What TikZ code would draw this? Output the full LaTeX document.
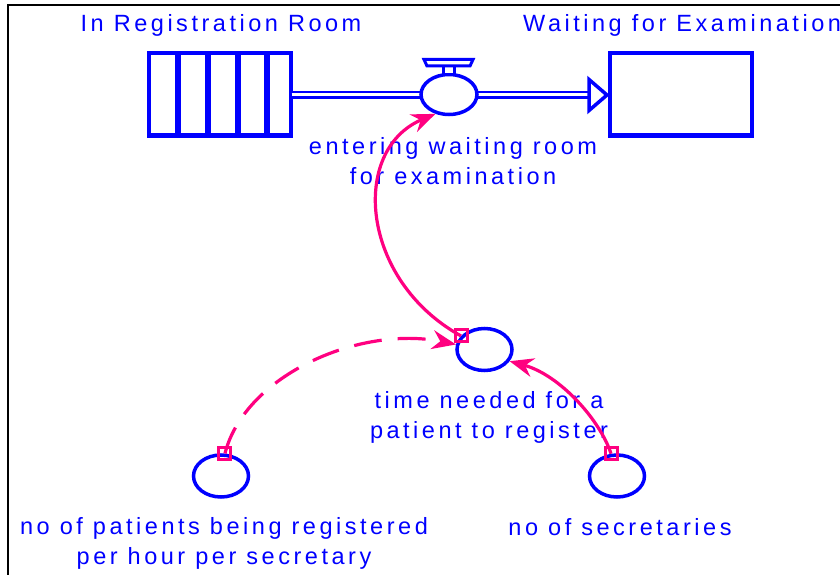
\documentclass[tikz,border=0pt]{standalone}
\usepackage{fontspec}
\setmainfont{Liberation Sans}[LetterSpace=15]
\usetikzlibrary{arrows.meta,shapes.geometric}
\definecolor{sdblue}{RGB}{0,0,255}
\definecolor{sdpink}{RGB}{255,0,128}
\begin{document}
\begin{tikzpicture}[x=1pt,y=-1pt,
  lbl/.style={text=sdblue,font=\fontsize{23.5}{29.5}\selectfont,align=center,inner sep=0pt},
  stock/.style={draw=sdblue,fill=white,line width=4pt,minimum width=142pt,minimum height=82pt,inner sep=0pt},
  aux/.style={ellipse,draw=sdblue,fill=white,line width=3.5pt,minimum width=55pt,minimum height=42pt,inner sep=0pt},
  valveshape/.style={ellipse,draw=sdblue,fill=white,line width=3.5pt,minimum width=56pt,minimum height=40pt,inner sep=0pt},
  divider/.style={draw=sdblue,line width=5.5pt},
  conn/.style={draw=sdpink,line width=3.2pt,-{Stealth[length=24pt,width=19pt,inset=8pt]}},
  srcsq/.style={draw=sdpink,line width=3pt,minimum size=12pt,inner sep=0pt},
  frameline/.style={draw=black,line width=2.5pt}
]
\useasboundingbox (0,0) rectangle (840,575);

% outer frame (left and top edges)
\draw[frameline] (8,575) -- (8,5) -- (840,5);

% stocks
\node[stock] (regroom) at (219.5,94.5) {};
\foreach \x in {178,208,238,267}
  \draw[divider] (\x,53) -- (\x,136);
\node[stock] (waitroom) at (680.5,94.5) {};

% flow pipe with hollow arrow head
\coordinate (pipeend) at (589,95);
\draw[draw=sdblue,line width=8.5pt] (regroom.east |- pipeend) -- (pipeend);
\draw[draw=white,line width=3pt] ([xshift=-1pt]regroom.east |- pipeend) -- ([xshift=2pt]pipeend);
\draw[draw=sdblue,fill=white,line width=3.5pt,line join=miter]
  (pipeend) ++(0,-15.5) -- (607,95) -- (589,110.5) -- cycle;

% valve
\node[valveshape] (valve) at (449,94.5) {};
\draw[draw=sdblue,fill=white,line width=3pt] (443.5,74.5) rectangle (454,66);
\draw[draw=sdblue,fill=white,line width=3pt] (424,59.5) -- (473,59.5) -- (470,66) -- (427,66) -- cycle;

% auxiliaries
\node[aux] (timereg) at (484.5,349.5) {};
\node[aux] (patients) at (221,476) {};
\node[aux] (secret) at (617,476) {};

% labels (multi-line labels anchored at the baseline of their last line)
\node[lbl,anchor=base] (lregroom) at (221,32) {In Registration Room};
\node[lbl,anchor=base west] (lwaitroom) at (523,32) {Waiting for Examination};
\node[lbl,anchor=base] (lvalve) at (453,184) {entering waiting room\\for examination};
\node[lbl,anchor=base] (ltimereg) at (489,438) {time needed for a\\patient to register};
\node[lbl,anchor=base] (lpatients) at (224,564) {no of patients being registered\\per hour per secretary};
\node[lbl,anchor=base] (lsecret) at (620,535) {no of secretaries};

% information links
\draw[conn] (timereg.150) .. controls (360,280) and (350,150) .. (valve.235);
\draw[conn,dash pattern=on 28pt off 16pt] (patients.80) .. controls (245,375) and (360,325) .. (timereg.170);
\draw[conn] (secret.105) .. controls (600,420) and (560,375) .. (timereg.335);

% link origins
\node[srcsq] (s1) at (timereg.150) {};
\node[srcsq] (s2) at (patients.80) {};
\node[srcsq] (s3) at (secret.105) {};
\end{tikzpicture}
\end{document}
